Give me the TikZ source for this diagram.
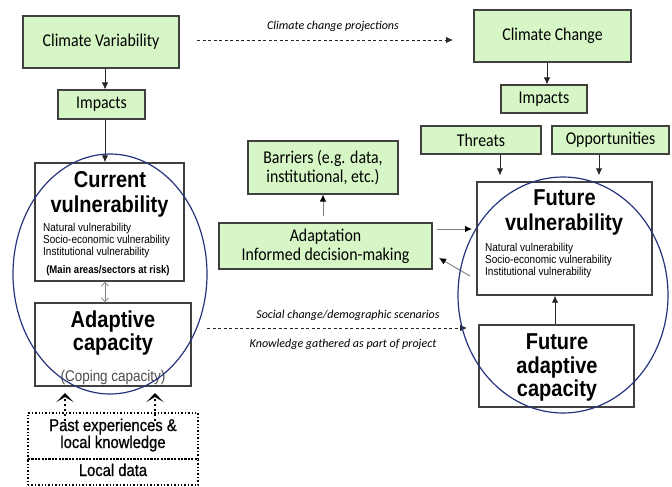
\documentclass[tikz,border=0pt]{standalone}
\usepackage{fontspec}
\newfontfamily\calf[FakeStretch=0.88]{Carlito}
\newfontfamily\calfi{Carlito}
\newfontfamily\arf[FakeStretch=0.87]{Liberation Sans}
\newfontfamily\arfm[FakeStretch=0.87,FakeBold=0.8]{Liberation Sans}
\usetikzlibrary{arrows.meta}
\definecolor{boxgreen}{RGB}{214,246,198}
\definecolor{ellblue}{RGB}{38,52,125}
\definecolor{edgegray}{RGB}{64,64,64}
\begin{document}
\begin{tikzpicture}[x=1pt,y=-1pt,
  gbox/.style={draw=edgegray, line width=1.1pt, fill=boxgreen, inner sep=0pt, font=\calf\fontsize{18}{19}\selectfont, align=center},
  kbox/.style={draw=edgegray, line width=1.4pt, inner sep=0pt},
  dbox/.style={draw=black, dotted, line width=1.4pt, inner sep=0pt},
  head/.style={font=\arf\bfseries\fontsize{23}{25}\selectfont, anchor=base, inner sep=0pt},
  small/.style={font=\arf\fontsize{11.5}{12}\selectfont, anchor=base west, inner sep=0pt},
  pt/.style={font=\arfm\fontsize{17}{17}\selectfont, anchor=base, inner sep=0pt},
  lab/.style={font=\calfi\itshape\fontsize{12}{12}\selectfont, anchor=base, inner sep=0pt},
  arr/.style={-{Latex[length=7pt,width=6.5pt]}, line width=0.9pt, draw=black!85},
  garr/.style={-{Latex[length=7pt,width=6.5pt,color=black]}, line width=0.9pt, draw=gray},
  dasharr/.style={-{Latex[length=7pt,width=6.5pt]}, line width=0.9pt, dash pattern=on 3pt off 2.5pt, draw=black!85},
  dotarr/.style={-{Stealth[length=9pt,width=17pt,inset=5pt]}, line width=2.4pt, dash pattern=on 2.4pt off 2.6pt},
  ell/.style={draw=ellblue, line width=1.2pt}
]
\fill[white] (0,0) rectangle (672,487);
\useasboundingbox (0,0) rectangle (672,487);

% green boxes
\node[gbox, minimum width=156pt, minimum height=52pt] (cv) at (101,42) {Climate Variability};
\node[gbox, minimum width=87pt, minimum height=29pt] (imp1) at (101.5,104.5) {Impacts};
\node[gbox, minimum width=157pt, minimum height=52pt] (cc) at (552.5,36) {Climate Change};
\node[gbox, minimum width=86pt, minimum height=28pt] (imp2) at (544,99) {Impacts};
\node[gbox, minimum width=120pt, minimum height=28pt] (thr) at (481,140) {Threats};
\node[gbox, minimum width=117pt, minimum height=28pt] (opp) at (610.5,140) {Opportunities};
\node[gbox, minimum width=150pt, minimum height=53pt] (bar) at (323,167.5) {Barriers (e.g. data,\\institutional, etc.)};
\node[gbox, minimum width=213pt, minimum height=46pt] (adp) at (325.5,246) {Adaptation\\Informed decision-making};

% black boxes
\node[kbox, minimum width=149pt, minimum height=118pt] (curv) at (109.5,222) {};
\node[kbox, minimum width=156pt, minimum height=83pt] (adc) at (113,344.5) {};
\node[kbox, minimum width=175pt, minimum height=113pt] (fv) at (564.5,238.5) {};
\node[kbox, minimum width=155pt, minimum height=82pt] (fac) at (556.5,366) {};
\node[dbox, minimum width=170pt, minimum height=46pt] (past) at (113,436) {};
\node[dbox, minimum width=170pt, minimum height=26pt] (ldat) at (113,472) {};

% texts in black boxes
\node[head] (curvA) at (110,187) {Current};
\node[head] (curvB) at (109.5,212) {vulnerability};
\node[small] (curvC) at (43,231) {Natural vulnerability};
\node[small] (curvD) at (43,243) {Socio-economic vulnerability};
\node[small] (curvE) at (43,255) {Institutional vulnerability};
\node[font=\arf\bfseries\fontsize{11}{12}\selectfont, anchor=base, inner sep=0pt] (curvF) at (108,273) {(Main areas/sectors at risk)};

\node[head] (adcA) at (113,327) {Adaptive};
\node[head] (adcB) at (113,350) {capacity};
\node[font=\arf\fontsize{15.5}{16}\selectfont, text=black!70, anchor=base, inner sep=0pt] (adcC) at (113,381) {(Coping capacity)};

\node[head] (fvA) at (564.5,205) {Future};
\node[head] (fvB) at (564,230) {vulnerability};
\node[small] (fvC) at (485,251) {Natural vulnerability};
\node[small] (fvD) at (485,263) {Socio-economic vulnerability};
\node[small] (fvE) at (485,275) {Institutional vulnerability};

\node[head] (facA) at (557,349) {Future};
\node[head] (facB) at (557,373) {adaptive};
\node[head] (facC) at (557,396) {capacity};

\node[pt] (pA) at (113,431) {Past experiences \&};
\node[pt] (pB) at (113,448) {local knowledge};
\node[pt] (lA) at (113,476) {Local data};

% labels
\node[lab] (l1) at (333,30) {Climate change projections};
\node[lab] (l2) at (348,318) {Social change/demographic scenarios};
\node[lab] (l3) at (343,347) {Knowledge gathered as part of project};

% coordinates
\coordinate (ax) at (105,0);
\coordinate (bx) at (547,0);
\coordinate (tx) at (500,0);
\coordinate (ox) at (599,0);
\coordinate (fx) at (555,0);
\coordinate (d1s) at (65,421);
\coordinate (d1e) at (65,393);
\coordinate (d2s) at (155,421);
\coordinate (d2e) at (155,393);
\coordinate (m1) at (207,328);
\coordinate (m2) at (467,328);
\coordinate (t1) at (197,40);
\coordinate (t2) at (453,40);
\coordinate (a1) at (437,229);
\coordinate (a2) at (472,229);
\coordinate (b1) at (470,276);
\coordinate (b2) at (439,258);

% connectors
\draw[arr] (cv.south -| ax) -- (imp1.north -| ax);
\draw[arr] (imp1.south -| ax) -- (curv.north -| ax);
\draw[{Straight Barb[length=4pt,width=7pt]}-{Straight Barb[length=4pt,width=7pt]}, gray, line width=0.7pt] (curv.south -| ax) -- (adc.north -| ax);
\draw[dotarr] (d1s) -- (d1e);
\draw[dotarr] (d2s) -- (d2e);
\draw[dasharr] (t1) -- (t2);
\draw[dasharr] (m1) -- (m2);
\draw[arr] (cc.south -| bx) -- (imp2.north -| bx);
\draw[arr, shorten >=6pt] (thr.south -| tx) -- (fv.north -| tx);
\draw[arr, shorten >=6pt] (opp.south -| ox) -- (fv.north -| ox);
\draw[arr] (fac.north -| fx) -- (fv.south -| fx);
\draw[garr, shorten <=6pt] (adp.north -| bar.south) -- (bar.south);
\draw[garr] (a1) -- (a2);
\draw[garr] (b1) -- (b2);

% ellipses
\draw[ell] (110,274) ellipse [x radius=97pt, y radius=120pt];
\draw[ell] (563,295) ellipse [x radius=105pt, y radius=118pt];
\end{tikzpicture}
\end{document}
